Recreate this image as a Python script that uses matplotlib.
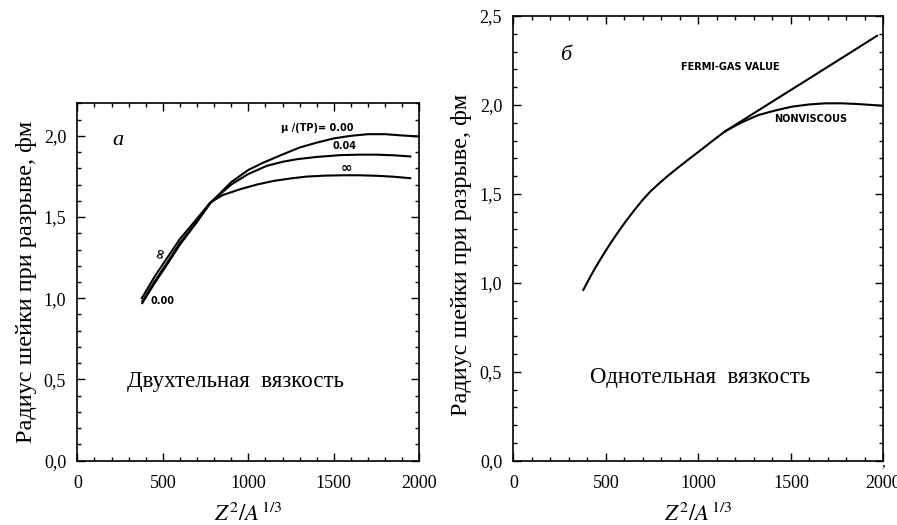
import matplotlib
matplotlib.use("Agg")
import matplotlib.pyplot as plt
from matplotlib.ticker import MultipleLocator, FixedLocator

plt.rcParams["font.family"] = ["Liberation Serif", "DejaVu Serif"]
plt.rcParams["mathtext.fontset"] = "stix"

# Panel a: two-body viscosity, neck radius at scission vs Z^2/A^(1/3)
x_a000 = [380, 450, 520, 600, 700, 777, 900, 1000, 1090, 1200, 1300, 1400, 1500,
          1600, 1700, 1800, 1900, 2000]
y_a000 = [0.97, 1.09, 1.20, 1.33, 1.47, 1.585, 1.715, 1.79, 1.836, 1.885, 1.928,
          1.958, 1.984, 2.0, 2.01, 2.01, 2.002, 1.996]

x_a004 = [380, 450, 520, 600, 700, 777, 900, 1000, 1108, 1200, 1284, 1400, 1538,
          1650, 1750, 1850, 1947]
y_a004 = [0.98, 1.10, 1.21, 1.34, 1.475, 1.587, 1.70, 1.765, 1.815, 1.840, 1.856,
          1.870, 1.881, 1.884, 1.884, 1.880, 1.873]

x_ainf = [377, 450, 520, 600, 700, 777, 850, 952, 1050, 1147, 1250, 1342, 1450,
          1557, 1650, 1750, 1850, 1947]
y_ainf = [1.00, 1.13, 1.24, 1.365, 1.49, 1.589, 1.635, 1.671, 1.700, 1.722, 1.738,
          1.749, 1.755, 1.757, 1.757, 1.754, 1.748, 1.739]

# Panel b: one-body viscosity
x_b_common = [378, 423, 468, 513, 558, 603, 649, 694, 739, 785, 829, 876, 946,
              1020, 1080, 1145]
y_b_common = [0.96, 1.048, 1.128, 1.203, 1.273, 1.339, 1.402, 1.46, 1.512, 1.556,
              1.596, 1.636, 1.693, 1.752, 1.801, 1.852]

x_fermi = [1145, 1400, 1595, 1800, 1966]
y_fermi = [1.852, 2.019, 2.146, 2.280, 2.389]

x_nonvisc = [1145, 1230, 1324, 1420, 1504, 1600, 1685, 1780, 1865, 1990]
y_nonvisc = [1.852, 1.900, 1.943, 1.970, 1.990, 2.003, 2.009, 2.009, 2.005, 1.996]

ylabel_text = "Радиус шейки при разрыве, фм"
xlabel_text = r"$Z^2/A^{1/3}$"
x_ticks = [0, 500, 1000, 1500, 2000]


def style_axes(ax, ymax, yticks):
    ax.set_xlim(0, 2000)
    ax.set_ylim(0, ymax)
    ax.xaxis.set_major_locator(FixedLocator(x_ticks))
    ax.xaxis.set_minor_locator(MultipleLocator(100))
    ax.yaxis.set_major_locator(FixedLocator(yticks))
    ax.yaxis.set_minor_locator(MultipleLocator(0.1))
    ax.set_xticklabels([str(t) for t in x_ticks])
    ax.set_yticklabels([f"{t:.1f}".replace(".", ",") for t in yticks])
    ax.tick_params(which="both", direction="in", top=True, right=True,
                   labelsize=13, width=1.0)
    ax.tick_params(axis="x", pad=10)
    ax.tick_params(axis="y", pad=8)
    ax.tick_params(which="major", length=6)
    ax.tick_params(which="minor", length=3)
    for s in ax.spines.values():
        s.set_linewidth(1.2)
    ax.set_ylabel(ylabel_text, fontsize=17.5, labelpad=5)
    ax.set_xlabel(xlabel_text, fontsize=16.5, labelpad=8)


fig = plt.figure(figsize=(8.97, 5.25), dpi=100)
ax1 = fig.add_axes([0.0862, 0.1225, 0.3813, 0.6807])
ax2 = fig.add_axes([0.5723, 0.1225, 0.4125, 0.847])

lw = 1.5
ax1.plot(x_a000, y_a000, color="black", lw=lw)
ax1.plot(x_a004, y_a004, color="black", lw=lw)
ax1.plot(x_ainf, y_ainf, color="black", lw=lw)
style_axes(ax1, 2.2, [0.0, 0.5, 1.0, 1.5, 2.0])

lab = dict(family="DejaVu Sans", fontweight="bold", fontsize=7)
ax1.text(1190, 2.045, "μ /(TP)= 0.00", ha="left", va="center", **lab)
ax1.text(1490, 1.935, "0.04", ha="left", va="center", **lab)
ax1.text(1575, 1.80, "∞", ha="center", va="center", family="DejaVu Sans",
         fontweight="bold", fontsize=10)
ax1.text(485, 1.28, "∞", ha="center", va="center", family="DejaVu Sans",
         fontweight="bold", fontsize=10, rotation=75)
ax1.text(430, 0.985, "0.00", ha="left", va="center", **lab)
ax1.text(240, 1.97, "а", style="italic", fontsize=16, ha="center", va="center")
ax1.text(923, 0.49, "Двухтельная  вязкость", fontsize=16.5, ha="center",
         va="center")

ax2.plot(x_b_common, y_b_common, color="black", lw=lw)
ax2.plot(x_fermi, y_fermi, color="black", lw=lw)
ax2.plot(x_nonvisc, y_nonvisc, color="black", lw=lw)
style_axes(ax2, 2.5, [0.0, 0.5, 1.0, 1.5, 2.0, 2.5])
ax2.yaxis.set_label_coords(-0.112, 0.4626)

ax2.text(907, 2.215, "FERMI-GAS VALUE", ha="left", va="center", **lab)
ax2.text(1410, 1.92, "NONVISCOUS", ha="left", va="center", **lab)
ax2.text(280, 2.28, "б", style="italic", fontsize=16, ha="center", va="center")
ax2.text(1010, 0.465, "Однотельная  вязкость", fontsize=16.5, ha="center",
         va="center")

fig.text(883 / 897, 1 - 463 / 525, ",", fontsize=11, ha="center", va="center")

fig.savefig("out.png", dpi=100)
